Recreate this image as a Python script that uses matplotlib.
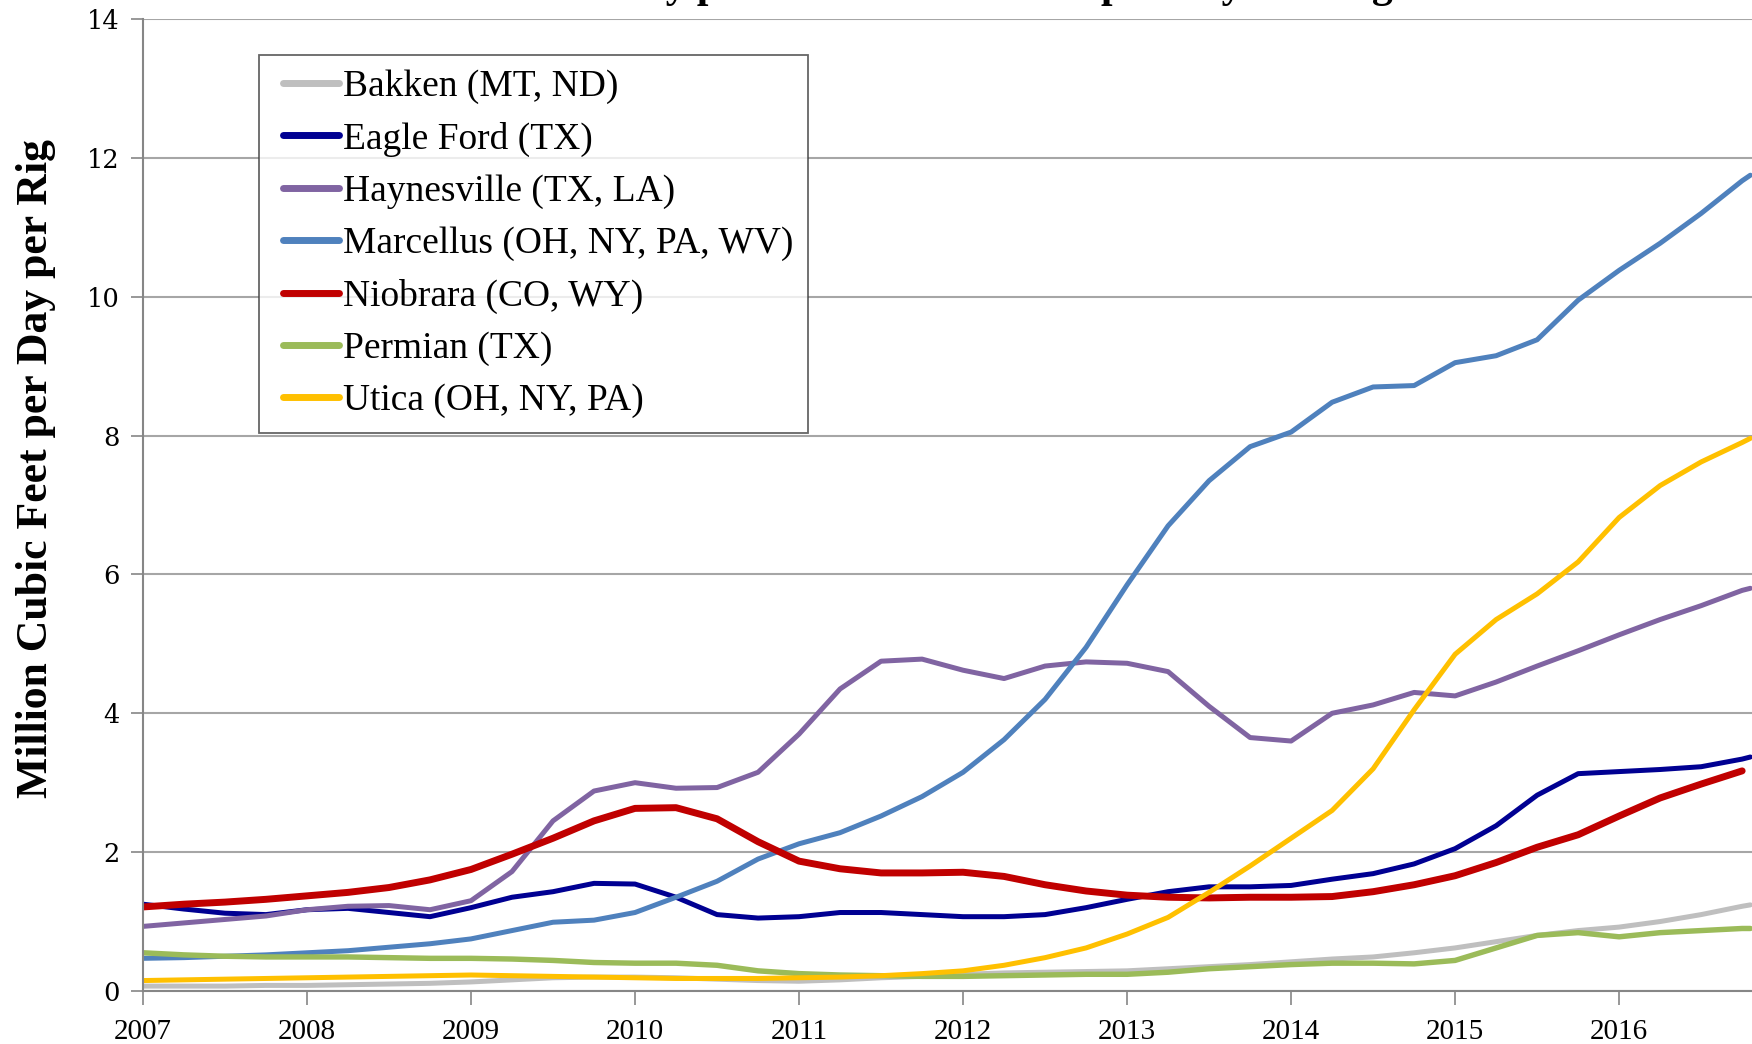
import numpy as np
import matplotlib
matplotlib.use("Agg")
import matplotlib.pyplot as plt
from matplotlib.lines import Line2D
from matplotlib.legend_handler import HandlerLine2D

# Quarterly dates (decimal years), last point is the right edge of the chart
dates = [2007.0, 2007.25, 2007.5, 2007.75,
         2008.0, 2008.25, 2008.5, 2008.75,
         2009.0, 2009.25, 2009.5, 2009.75,
         2010.0, 2010.25, 2010.5, 2010.75,
         2011.0, 2011.25, 2011.5, 2011.75,
         2012.0, 2012.25, 2012.5, 2012.75,
         2013.0, 2013.25, 2013.5, 2013.75,
         2014.0, 2014.25, 2014.5, 2014.75,
         2015.0, 2015.25, 2015.5, 2015.75,
         2016.0, 2016.25, 2016.5, 2016.75, 2016.8]

# Million cubic feet per day per rig
bakken = [0.07, 0.07, 0.07, 0.08, 0.08, 0.09, 0.10, 0.11, 0.13, 0.16, 0.19, 0.20,
          0.20, 0.19, 0.17, 0.15, 0.14, 0.16, 0.19, 0.21, 0.24, 0.26, 0.27, 0.28,
          0.29, 0.32, 0.35, 0.38, 0.42, 0.46, 0.49, 0.55, 0.62, 0.71, 0.80, 0.87,
          0.92, 1.00, 1.10, 1.22, 1.24]
eagle_ford = [1.25, 1.18, 1.12, 1.10, 1.17, 1.19, 1.13, 1.07, 1.20, 1.35, 1.43, 1.55,
              1.54, 1.35, 1.10, 1.05, 1.07, 1.13, 1.13, 1.10, 1.07, 1.07, 1.10, 1.20,
              1.32, 1.43, 1.50, 1.50, 1.52, 1.61, 1.69, 1.83, 2.05, 2.38, 2.82, 3.13,
              3.16, 3.19, 3.23, 3.34, 3.37]
haynesville = [0.93, 0.98, 1.03, 1.08, 1.17, 1.22, 1.23, 1.17, 1.30, 1.72, 2.45, 2.88,
               3.00, 2.92, 2.93, 3.15, 3.70, 4.35, 4.75, 4.78, 4.62, 4.50, 4.68, 4.74,
               4.72, 4.60, 4.10, 3.65, 3.60, 4.00, 4.12, 4.30, 4.25, 4.45, 4.68, 4.90,
               5.13, 5.35, 5.55, 5.77, 5.80]
marcellus = [0.47, 0.48, 0.50, 0.52, 0.55, 0.58, 0.63, 0.68, 0.75, 0.87, 0.99, 1.02,
             1.13, 1.35, 1.58, 1.90, 2.12, 2.28, 2.52, 2.80, 3.15, 3.62, 4.20, 4.95,
             5.85, 6.70, 7.35, 7.84, 8.05, 8.48, 8.70, 8.72, 9.05, 9.15, 9.38, 9.95,
             10.38, 10.77, 11.20, 11.67, 11.75]
niobrara = [1.21, 1.25, 1.28, 1.32, 1.37, 1.42, 1.49, 1.60, 1.75, 1.97, 2.20, 2.45,
            2.63, 2.64, 2.48, 2.15, 1.87, 1.76, 1.70, 1.70, 1.71, 1.65, 1.53, 1.44,
            1.38, 1.35, 1.34, 1.35, 1.35, 1.36, 1.43, 1.53, 1.66, 1.85, 2.07, 2.25,
            2.52, 2.78, 2.98, 3.17, np.nan]
permian = [0.55, 0.52, 0.50, 0.49, 0.49, 0.49, 0.48, 0.47, 0.47, 0.46, 0.44, 0.41,
           0.40, 0.40, 0.37, 0.29, 0.25, 0.23, 0.22, 0.21, 0.21, 0.22, 0.23, 0.24,
           0.24, 0.27, 0.32, 0.35, 0.38, 0.40, 0.40, 0.39, 0.44, 0.62, 0.80, 0.84,
           0.78, 0.84, 0.87, 0.90, 0.90]
utica = [0.15, 0.16, 0.17, 0.18, 0.19, 0.20, 0.21, 0.22, 0.23, 0.22, 0.21, 0.20,
         0.19, 0.18, 0.18, 0.18, 0.19, 0.20, 0.22, 0.25, 0.29, 0.37, 0.48, 0.62,
         0.82, 1.06, 1.42, 1.80, 2.20, 2.60, 3.20, 4.05, 4.85, 5.35, 5.72, 6.18,
         6.82, 7.28, 7.62, 7.90, 7.96]

series = [
    ("Bakken (MT, ND)", bakken, "#BFBFBF", 3.6),
    ("Eagle Ford (TX)", eagle_ford, "#000092", 3.6),
    ("Haynesville (TX, LA)", haynesville, "#8064A2", 3.6),
    ("Marcellus (OH, NY, PA, WV)", marcellus, "#4F81BD", 3.6),
    ("Niobrara (CO, WY)", niobrara, "#C00000", 5.0),
    ("Permian (TX)", permian, "#9BBB59", 3.9),
    ("Utica (OH, NY, PA)", utica, "#FFC000", 3.6),
]

year_ticks = [2007, 2008, 2009, 2010, 2011, 2012, 2013, 2014, 2015, 2016]
y_ticks = [0, 2, 4, 6, 8, 10, 12, 14]

fig = plt.figure(figsize=(17.52, 10.44), dpi=100)
ax = fig.add_axes([0.0816, 0.0508, 0.9184, 0.931])

for name, vals, color, lw in series:
    ax.plot(dates, vals, color=color, lw=lw, label=name,
            solid_capstyle="round", solid_joinstyle="round")

ax.set_xlim(2007, 2016.81)
ax.set_ylim(0, 14)
ax.set_xticks(year_ticks)
ax.set_xticklabels([str(y) for y in year_ticks], fontfamily="Liberation Serif", fontsize=21)
ax.set_yticks(y_ticks)
ax.set_yticklabels([str(v) for v in y_ticks], fontfamily="DejaVu Serif", fontsize=18.5)
ax.tick_params(axis="x", direction="out", length=10, width=1.2, color="#868686", pad=10)
ax.tick_params(axis="y", direction="out", length=9, width=1.2, color="#868686", pad=8)

ax.grid(axis="y", color="#A6A6A6", lw=1.5)
ax.set_axisbelow(True)
for side in ["top", "right"]:
    ax.spines[side].set_visible(False)
for side in ["left", "bottom"]:
    ax.spines[side].set_color("#868686")
    ax.spines[side].set_linewidth(1.5)

ax.set_ylabel("Million Cubic Feet per Day per Rig", fontfamily="Liberation Serif",
              fontweight="bold", fontsize=31.5)
ax.yaxis.set_label_coords(-0.054, 0.537)

leg = ax.legend(loc="upper left", bbox_to_anchor=(0.0721, 0.963), borderaxespad=0,
                frameon=True, fancybox=False, handlelength=1.76, handletextpad=0.1,
                labelspacing=0.47, borderpad=0.38,
                handler_map={Line2D: HandlerLine2D(xpad=0.27)},
                prop={"family": "Liberation Serif", "size": 27})
leg.get_frame().set_edgecolor("#404040")
leg.get_frame().set_linewidth(1.3)
for h in leg.get_lines():
    h.set_linewidth(5)

# title sits above the visible area, only the descenders show
fig.text(0.55, 1.003, "Monthly production from shale per Day and Rig",
         ha="center", va="baseline", fontfamily="Liberation Serif",
         fontweight="bold", fontsize=30)

fig.savefig("out.png", dpi=100)
